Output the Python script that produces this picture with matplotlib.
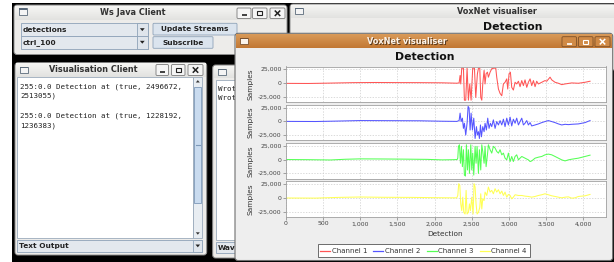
import matplotlib
matplotlib.use("Agg")
import matplotlib.pyplot as plt
from matplotlib.patches import Rectangle, FancyBboxPatch, Polygon
from matplotlib.colors import to_rgb
from matplotlib.ticker import FuncFormatter
import numpy as np

# ---------------- data ----------------
channels = ["Channel 1", "Channel 2", "Channel 3", "Channel 4"]
x_ticks = [0, 500, 1000, 1500, 2000, 2500, 3000, 3500, 4000]
y_ticks = [-25000, 0, 25000]

red_x = [0, 300, 600, 900, 1200, 1500, 1800, 2100, 2300, 2330, 2343, 2352, 2365, 2388, 2401, 2419, 2437, 2455, 2473,
         2491, 2513, 2536, 2554, 2576, 2590, 2608, 2621, 2635, 2648, 2666, 2679, 2693, 2711, 2724, 2747, 2769, 2800,
         2823, 2836, 2859, 2881, 2904, 2926, 2948, 2971, 2984, 3002, 3020, 3038, 3060, 3083, 3105, 3128, 3150, 3173,
         3195, 3217, 3240, 3262, 3285, 3307, 3330, 3352, 3374, 3397, 3442, 3486, 3509, 3554, 3576, 3621, 3666, 3711,
         3756, 3845, 3935, 4025, 4092]
red_y = [-800, -1000, -300, 500, 800, 600, 500, 200, -500, 0, 13600, -1850, 27000, 27000, -31500, -31500, 27000,
         -31500, -1850, -31500, 27000, 27000, -26500, 16700, 27000, 27000, -26500, -31500, -1850, 22800, -1850, 16700,
         19700, 10500, 19700, 25900, 27000, 27000, 10500, -11100, -19100, -23400, -1850, 1200, 7400, -11100, 16700,
         19700, -8000, -13000, 1200, -1850, 3100, -6800, 4300, -4900, 5600, -8000, 1200, 7400, -4900, 4300, -6800,
         3100, -1850, 1200, 4300, 3100, 10500, 5600, 1200, -600, -3100, -1850, 0, -600, 1200, 3100]

blue_x = [0, 400, 700, 1000, 1400, 1800, 2100, 2300, 2330, 2343, 2357, 2374, 2388, 2401, 2419, 2437, 2451, 2464,
          2478, 2491, 2509, 2527, 2545, 2563, 2576, 2590, 2603, 2617, 2630, 2648, 2666, 2679, 2697, 2715, 2733, 2751,
          2769, 2791, 2814, 2836, 2859, 2881, 2904, 2926, 2948, 2971, 2993, 3016, 3038, 3060, 3083, 3105, 3128, 3150,
          3173, 3195, 3217, 3240, 3262, 3285, 3307, 3352, 3397, 3442, 3486, 3531, 3576, 3621, 3666, 3711, 3756, 3800,
          3845, 3935, 4025, 4092]
blue_y = [-300, -500, 300, 1200, 1000, 800, 0, -300, 1200, 14800, -600, 5600, -13000, -3700, -25300, -3700, 27000,
          24100, -16000, 14800, -16000, 5600, -31500, -9900, -25300, -19100, -31500, -6800, -28400, -9900, -19100,
          -3700, -16000, 5600, -13000, -3700, -9900, 2500, -13000, -600, -6800, 1200, -6800, 3700, -9900, 5600, -6800,
          7400, -8600, 3700, -3700, 5600, -6800, -600, 5600, -6800, -3700, 1200, -6800, -2500, -8600, -6800, -4900,
          -2500, -600, 1200, -600, -2500, -4900, -6800, -5600, -6200, -5600, -4900, -2500, 1200]

green_x = [0, 300, 600, 800, 1000, 1300, 1600, 1900, 2100, 2250, 2303, 2312, 2321, 2334, 2348, 2361, 2374, 2388,
           2401, 2415, 2428, 2442, 2455, 2469, 2487, 2500, 2513, 2527, 2545, 2558, 2572, 2590, 2603, 2621, 2635, 2648,
           2666, 2679, 2693, 2711, 2724, 2747, 2769, 2791, 2814, 2836, 2859, 2881, 2904, 2926, 2948, 2971, 2993, 3016,
           3038, 3060, 3083, 3105, 3128, 3150, 3173, 3217, 3262, 3285, 3307, 3352, 3397, 3442, 3486, 3531, 3576, 3621,
           3666, 3711, 3756, 3800, 3845, 3935, 4025, 4092]
green_y = [0, -300, -800, 500, 1200, 1000, 700, 300, -600, -300, 0, 2500, 24100, 27000, -6800, 24100, -13000, 17900,
           -28400, -30200, 27000, -19100, 17900, -25300, 27000, -19100, 11700, -28400, 24100, -6800, 24100, -25300,
           17900, -19100, 27000, 14800, -6800, 24100, -13000, 8600, 27000, 17900, 11700, 24100, 21000, 14800, 11700,
           17900, 8600, 11700, 2500, -600, 11700, -3700, 5600, -3700, 5600, 8600, -600, 2500, 5600, 2500, -600, -3700,
           -2500, 2500, 4300, 5600, 8600, 9900, 8600, 5600, 2500, -600, -2500, -600, 600, 2500, 5600, 8000]

yellow_x = [0, 400, 700, 1000, 1300, 1700, 2000, 2250, 2298, 2312, 2325, 2339, 2352, 2365, 2379, 2392, 2410, 2424,
            2437, 2455, 2469, 2482, 2500, 2518, 2531, 2545, 2558, 2572, 2590, 2608, 2621, 2635, 2648, 2666, 2679,
            2702, 2724, 2747, 2769, 2791, 2814, 2836, 2859, 2881, 2904, 2926, 2948, 2971, 2993, 3016, 3038, 3060,
            3083, 3128, 3173, 3217, 3262, 3307, 3352, 3397, 3442, 3486, 3531, 3576, 3621, 3666, 3711, 3756, 3800,
            3845, 3890, 3935, 3980, 4025, 4092]
yellow_y = [-300, -500, 800, 1500, 1000, 800, 300, 0, 0, 4300, 25900, 22800, -11100, -23400, 1200, -26500, -29600,
            13600, -29600, -26500, -11100, -23400, 1200, -29600, 25900, 19700, -11100, -29600, -26500, -17300, 7400,
            -20400, -1850, -4900, 10500, 4300, 19700, 10500, 13600, 7400, 16700, 10500, 14800, 7400, 12300, 4300,
            10500, 1200, 6200, 4300, -1850, 1200, 5600, 4300, 4300, 3100, 2500, 1200, 2500, 4300, 5600, 7400, 5600,
            3700, 2500, 1200, 0, 1200, 1800, -600, 0, 2500, 3100, 3700, 6200]

series_x = [red_x, blue_x, green_x, yellow_x]
series_y = [red_y, blue_y, green_y, yellow_y]
colors = ["#FF5555", "#5555FF", "#55FF55", "#FFFF55"]

text_lines = ["255:0.0 Detection at (true, 2496672,", "2513055)", "",
              "255:0.0 Detection at (true, 1228192,", "1236383)"]

# ---------------- figure ----------------
W, H = 614, 262
fig = plt.figure(figsize=(W / 100, H / 100), dpi=100)
fig.patch.set_facecolor("white")
bg = fig.add_axes([0, 0, 1, 1])
bg.axis("off")

SANS = "DejaVu Sans"
MONO = "DejaVu Sans Mono"


def rect(x0, y0, x1, y1, fc, ec="none", lw=0.6, z=1, r=0):
    if r > 0:
        p = FancyBboxPatch((x0, y0), x1 - x0, y1 - y0,
                           boxstyle=f"round,pad=0,rounding_size={r}",
                           fc=fc, ec=ec, lw=lw, zorder=z)
    else:
        p = Rectangle((x0, y0), x1 - x0, y1 - y0, fc=fc, ec=ec, lw=lw, zorder=z)
    bg.add_patch(p)


def grad(x0, y0, x1, y1, ctop, cbot, z):
    t = np.linspace(0, 1, 32)[:, None, None]
    a = np.array(to_rgb(ctop))[None, None, :]
    b = np.array(to_rgb(cbot))[None, None, :]
    img = a * (1 - t) + b * t
    bg.imshow(img, extent=(x0, x1, y1, y0), aspect="auto", zorder=z, interpolation="bilinear")


def txt(x, y, s, size, z, ha="left", bold=False, color="#222222", family=SANS, **kw):
    bg.text(x, y, s, fontsize=size, ha=ha, va="center", zorder=z, color=color,
            fontweight="bold" if bold else "normal", family=family, **kw)


def tri(cx, cy, z, up=False, color="#333333", s=2.2):
    if up:
        pts = [(cx - s, cy + s * 0.6), (cx + s, cy + s * 0.6), (cx, cy - s * 0.6)]
    else:
        pts = [(cx - s, cy - s * 0.6), (cx + s, cy - s * 0.6), (cx, cy + s * 0.6)]
    bg.add_patch(Polygon(pts, closed=True, fc=color, ec="none", zorder=z))


def wbuttons(boxes, y0, y1, fc, ec, gc, z):
    for i, (a, b) in enumerate(boxes):
        rect(a, y0, b, y1, fc, ec, 0.6, z, r=1.2)
        cx, cy = (a + b) / 2, (y0 + y1) / 2
        if i == 0:
            bg.plot([cx - 2.5, cx + 2.5], [cy + 2, cy + 2], color=gc, lw=1.2, zorder=z + 1,
                    solid_capstyle="butt")
        elif i == 1:
            rect(cx - 2.5, cy - 2.2, cx + 2.5, cy + 2.2, "none", gc, 0.8, z + 1)
        else:
            bg.plot([cx - 2.2, cx + 2.2], [cy - 2.2, cy + 2.2], color=gc, lw=1.1, zorder=z + 1)
            bg.plot([cx - 2.2, cx + 2.2], [cy + 2.2, cy - 2.2], color=gc, lw=1.1, zorder=z + 1)


def icon(x0, y0, z, fc="#f4f4f4", ec="#5a6a7a"):
    rect(x0, y0, x0 + 8, y0 + 6.5, fc, ec, 0.6, z)
    rect(x0, y0, x0 + 8, y0 + 1.8, ec, "none", 0, z + 0.1)


WIN = "#edecea"
BORDER = "#8c8c8c"
CBFC = "#e3e8ee"
CBEC = "#8ea2b8"

# black desktop
rect(12, 3, 614, 262, "#000000", z=0)

# ---- Ws Java Client ----
z = 10
rect(14, 5, 287, 54.5, WIN, BORDER, 0.7, z, r=3)
grad(15, 6, 286, 20, "#f6f6f4", "#e2e2e0", z + 0.5)
icon(19, 8, z + 1)
txt(133, 12.5, "Ws Java Client", 5.9, z + 1, ha="center", bold=True, color="#333333")
wbuttons([(237, 251), (252.5, 267), (270, 285)], 8, 18.5, "#f5f5f5", "#7a7a7a", "#222222", z + 1)
for (y0, y1, s) in [(23.3, 36, "detections"), (36, 48.5, "ctrl_100")]:
    rect(20.7, y0, 148, y1, CBFC, CBEC, 0.6, z + 1)
    rect(136.5, y0, 148, y1, "#dfe5ec", CBEC, 0.6, z + 1.2)
    tri(142.3, (y0 + y1) / 2, z + 1.5, color="#222222", s=2.4)
    txt(22.5, (y0 + y1) / 2 + 0.3, s, 5.3, z + 2, bold=True)
rect(153, 23.3, 237, 35, "#dbe4ee", CBEC, 0.6, z + 1, r=1)
txt(195, 29.4, "Update Streams", 5.3, z + 2, ha="center", bold=True)
rect(153, 36.7, 213, 48.3, "#dbe4ee", CBEC, 0.6, z + 1, r=1)
txt(183, 42.7, "Subscribe", 5.3, z + 2, ha="center", bold=True)

# ---- background VoxNet window ----
z = 12
rect(290, 4, 616, 70, WIN, BORDER, 0.7, z, r=3)
grad(291, 5, 615, 18, "#f6f6f4", "#e2e2e0", z + 0.5)
icon(295, 7.5, z + 1)
txt(497, 11.5, "VoxNet visualiser", 5.9, z + 1, ha="center", bold=True, color="#333333")
txt(513, 26.5, "Detection", 7.8, z + 1, ha="center", bold=True, color="#111111")

# ---- Visualisation Client ----
z = 20
rect(15, 62.7, 206.7, 255, WIN, BORDER, 0.7, z, r=3)
grad(16, 63.7, 205.7, 77, "#f6f6f4", "#e2e2e0", z + 0.5)
icon(20, 66.5, z + 1)
txt(93, 70, "Visualisation Client", 5.9, z + 1, ha="center", bold=True, color="#333333")
wbuttons([(156, 168.5), (171.5, 185), (188, 203)], 64.5, 75.5, "#f5f5f5", "#7a7a7a", "#222222", z + 1)
rect(17.3, 77.3, 193.3, 238.3, "white", "#9aaabb", 0.6, z + 1)
rect(193.3, 77.3, 202.3, 238.3, "#e8edf2", "#9aaabb", 0.6, z + 1)
tri(197.8, 81.3, z + 2, up=True, color="#333333", s=2.0)
rect(194.2, 86.5, 201.4, 203, "#c9dbef", "#7d98b8", 0.6, z + 2)
bg.plot([195.5, 200.1], [145, 145], color="#7d98b8", lw=0.8, zorder=z + 3)
tri(197.8, 233.5, z + 2, up=False, color="#333333", s=2.0)
for i, s in enumerate(text_lines):
    if s:
        txt(20.5, 86.5 + i * 9.7, s, 5.4, z + 2, family=MONO, color="#222222")
rect(17.3, 240, 202.3, 251.7, CBFC, CBEC, 0.6, z + 1)
rect(193.3, 240, 202.3, 251.7, "#dfe5ec", CBEC, 0.6, z + 1.2)
tri(197.8, 245.9, z + 1.5, color="#222222", s=2.3)
txt(19.3, 246.2, "Text Output", 5.3, z + 2, bold=True)

# ---- partial third window ----
z = 30
rect(212.7, 65, 262, 258, WIN, BORDER, 0.7, z, r=3)
grad(213.7, 66, 261, 78, "#f6f6f4", "#e2e2e0", z + 0.5)
icon(218, 68.5, z + 1)
rect(216, 79.5, 262, 240, "white", "#9aaabb", 0.6, z + 1)
txt(218, 88.6, "Wrote", 5.4, z + 2, family=MONO)
txt(218, 98.4, "Wrote", 5.4, z + 2, family=MONO)
rect(216, 241.5, 262, 253.3, CBFC, CBEC, 0.6, z + 1)
txt(217.5, 247.5, "Waveform", 5.3, z + 2, bold=True)

# ---- main VoxNet window ----
z = 40
rect(235, 33.3, 612.7, 260.5, "#eeeeee", "#6f6f6f", 0.8, z, r=3)
grad(236, 34.3, 611.7, 48, "#d99a58", "#c27834", z + 0.5)
icon(240, 37.5, z + 1, fc="#fbf4ec", ec="#7a5230")
txt(407.5, 42.2, "VoxNet visualiser", 5.9, z + 1.2, ha="center", bold=True, color="#5a3a1c")
txt(407, 41.6, "VoxNet visualiser", 5.9, z + 1.3, ha="center", bold=True, color="#fbf3ea")
wbuttons([(562, 576.5), (578.5, 593), (595, 610)], 36.7, 46.7, "#d08a46", "#7e5128", "#ffffff", z + 1)
txt(425, 57.5, "Detection", 7.8, z + 1, ha="center", bold=True, color="#111111")
txt(445.5, 234.2, "Detection", 5.3, z + 1, ha="center", color="#333333")

# legend
rect(318, 244, 530, 257.3, "white", "#555555", 0.6, z + 1)
leg_pos = [(320, 331.5), (373, 385), (427, 438.5), (479.5, 491)]
for (lx, tx), c, name in zip(leg_pos, colors, channels):
    bg.plot([lx, lx + 10], [250.8, 250.8], color=c, lw=0.9, zorder=z + 2)
    txt(tx, 250.9, name, 5.0, z + 2, color="#333333")

# panel y-labels
tops = [66.5, 104.8, 143.1, 181.4]
ph = 35.6
for t in tops:
    txt(250.5, t + ph / 2, "Samples", 5.3, z + 1, ha="center", color="#333333", rotation=90)

bg.set_xlim(0, W)
bg.set_ylim(H, 0)

# ---------------- chart panels ----------------
left, right = 286, 605.5
fmt = FuncFormatter(lambda v, p: f"{v:,.0f}")
for i, (t, xs, ys, c) in enumerate(zip(tops, series_x, series_y, colors)):
    ax = fig.add_axes([left / W, 1 - (t + ph) / H, (right - left) / W, ph / H])
    ax.set_facecolor("white")
    ax.plot(xs, ys, color=c, lw=0.75)
    ax.set_xlim(0, 4300)
    ax.set_ylim(-35000, 30000)
    ax.set_xticks(x_ticks)
    ax.set_yticks(y_ticks)
    ax.yaxis.set_major_formatter(fmt)
    ax.xaxis.set_major_formatter(fmt)
    ax.grid(True, color="#cccccc", lw=0.5, ls=(0, (2, 2)))
    ax.set_axisbelow(True)
    for sp in ax.spines.values():
        sp.set_color("#a0a0a0")
        sp.set_linewidth(0.6)
    ax.tick_params(axis="both", length=2, width=0.5, color="#808080", pad=1.2,
                   labelsize=4.4, labelcolor="#444444")
    if i < 3:
        ax.tick_params(axis="x", labelbottom=False, length=0)
    for lab in ax.get_xticklabels() + ax.get_yticklabels():
        lab.set_family(SANS)

fig.savefig("out.png", dpi=100, facecolor="white")
